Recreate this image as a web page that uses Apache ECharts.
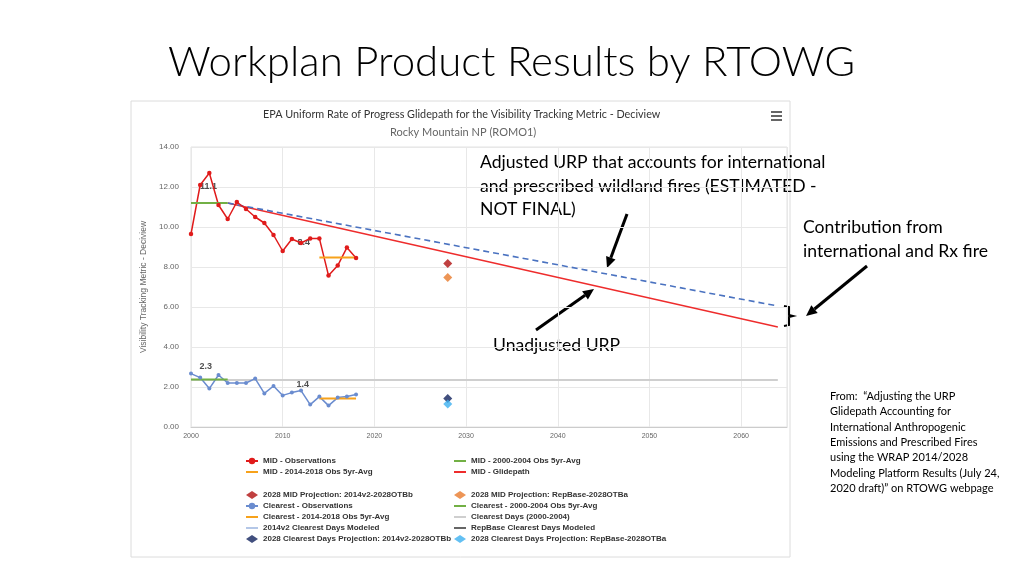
<!DOCTYPE html>
<html>
<head>
<meta charset="utf-8">
<script src="https://cdn.jsdelivr.net/npm/echarts@6/dist/echarts.min.js"></script>
<style>
  html, body { margin: 0; padding: 0; background: #fff; }
  #main { width: 1024px; height: 576px; }
</style>
</head>
<body>
<div id="main"></div>
<script>
// observation years
var years = [2000, 2001, 2002, 2003, 2004, 2005, 2006, 2007, 2008, 2009,
             2010, 2011, 2012, 2013, 2014, 2015, 2016, 2017, 2018];
// most impaired days
var midObs = [9.65, 12.1, 12.7, 11.1, 10.4, 11.25, 10.9, 10.5, 10.2, 9.6,
              8.8, 9.4, 9.2, 9.43, 9.43, 7.57, 8.07, 8.97, 8.45];
// clearest days
var clearObs = [2.67, 2.47, 1.92, 2.6, 2.2, 2.2, 2.2, 2.42, 1.68, 2.05,
                1.58, 1.72, 1.82, 1.12, 1.52, 1.07, 1.47, 1.52, 1.62];

var midAvgEarly = [[2000, 11.2], [2004, 11.2]];
var midAvgLate = [[2014, 8.48], [2018, 8.48]];
var clearAvgEarly = [[2000, 2.37], [2004, 2.37]];
var clearAvgLate = [[2014, 1.43], [2018, 1.43]];
var clearBaseline = [[2000, 2.35], [2064, 2.35]];
var glidepath = [[2004, 11.2], [2064, 5.0]];
var adjustedGlidepath = [[2004, 11.2], [2064, 6.05]];

// 2028 projections
var projMidOTBb = [[2028, 8.18]];
var projMidOTBa = [[2028, 7.47]];
var projClearOTBb = [[2028, 1.43]];
var projClearOTBa = [[2028, 1.15]];

// value labels shown on the chart
var avgLabels = [[2001.9, 12.0, "11.1"], [2012.3, 9.2, "8.4"], [2001.6, 3.0, "2.3"], [2012.2, 2.1, "1.4"]];

var tickYears = [2000, 2010, 2020, 2030, 2040, 2050, 2060];

function pair(xs, ys) {
  return xs.map(function (x, i) { return [x, ys[i]]; });
}

// black arrow (line + head) for the slide notes
function arrow(x1, y1, x2, y2) {
  var a = Math.atan2(y2 - y1, x2 - x1);
  var len = 11, w = 5;
  var bx = x2 - len * Math.cos(a), by = y2 - len * Math.sin(a);
  return [
    { type: "line", shape: { x1: x1, y1: y1, x2: bx, y2: by }, style: { stroke: "#000", lineWidth: 3 } },
    { type: "polygon", shape: { points: [[x2, y2],
        [bx + w * Math.sin(a), by - w * Math.cos(a)],
        [bx - w * Math.sin(a), by + w * Math.cos(a)]] }, style: { fill: "#000" } }
  ];
}

// legend entry for a plain line (hide the dot)
function plain(name) {
  return { name: name, itemStyle: { opacity: 0 } };
}

var myChart = echarts.init(document.getElementById("main"));

var noteFont = "Lato, 'Open Sans', sans-serif";
var graphics = [
  { type: "rect", shape: { x: 131, y: 101, width: 659, height: 456 }, style: { fill: "none", stroke: "#dcdcdc", lineWidth: 1 } },
  // menu icon
  { type: "line", shape: { x1: 771, y1: 112, x2: 782, y2: 112 }, style: { stroke: "#666", lineWidth: 2 } },
  { type: "line", shape: { x1: 771, y1: 116, x2: 782, y2: 116 }, style: { stroke: "#666", lineWidth: 2 } },
  { type: "line", shape: { x1: 771, y1: 120, x2: 782, y2: 120 }, style: { stroke: "#666", lineWidth: 2 } },
  { type: "text", left: 480, top: 151, style: { text: "Adjusted URP that accounts for international\nand prescribed wildland fires (ESTIMATED -\nNOT FINAL)", font: "17.6px " + noteFont, fill: "#000", lineHeight: 23.5 } },
  { type: "text", left: 803, top: 216, style: { text: "Contribution from\ninternational and Rx fire", font: "17.6px " + noteFont, fill: "#000", lineHeight: 23.5 } },
  { type: "text", left: 493, top: 336, style: { text: "Unadjusted URP", font: "17.6px " + noteFont, fill: "#000" } },
  { type: "text", left: 830, top: 389, style: { text: "From:  \u201cAdjusting the URP\nGlidepath Accounting for\nInternational Anthropogenic\nEmissions and Prescribed Fires\nusing the WRAP 2014/2028\nModeling Platform Results (July 24,\n2020 draft)\u201d on RTOWG webpage", font: "11px " + noteFont, fill: "#000", lineHeight: 15.3 } },
  // bracket
  { type: "polyline", shape: { points: [[784, 306], [789, 307], [789, 315], [793, 316], [789, 317], [789, 325], [784, 326]] }, style: { stroke: "#000", lineWidth: 2, fill: "none" } }
].concat(arrow(627, 214, 607, 268), arrow(536, 330, 594, 289), arrow(867, 266, 806, 316));

var legendBase = { orient: "vertical", padding: 0, itemGap: 3, itemWidth: 12, itemHeight: 8,
  textStyle: { fontSize: 8, color: "#333", fontWeight: "bold" } };

const option = {
  animation: false,
  title: [
    { text: "Workplan Product Results by RTOWG", left: 163, top: 36, textStyle: { fontFamily: noteFont, fontWeight: 300, fontSize: 42, color: "#000" } },
    { text: "EPA Uniform Rate of Progress Glidepath for the Visibility Tracking Metric - Deciview", left: 263, top: 109, padding: 0, textStyle: { fontFamily: noteFont, fontWeight: "normal", fontSize: 10.8, color: "#333" } },
    { text: "Rocky Mountain NP (ROMO1)", left: 390, top: 127, padding: 0, textStyle: { fontFamily: noteFont, fontWeight: "normal", fontSize: 11, color: "#666" } }
  ],
  grid: { left: 191, top: 147, width: 596, height: 280, show: true, borderColor: "#e2e2e2", borderWidth: 1 },
  legend: [
    Object.assign({ left: 245, top: 457, data: ["MID - Observations", plain("MID - 2014-2018 Obs 5yr-Avg")] }, legendBase),
    Object.assign({ left: 453, top: 457, data: [plain("MID - 2000-2004 Obs 5yr-Avg"), plain("MID - Glidepath")] }, legendBase),
    Object.assign({ left: 245, top: 491, data: ["2028 MID Projection: 2014v2-2028OTBb", "Clearest - Observations",
      plain("Clearest - 2014-2018 Obs 5yr-Avg"), plain("2014v2 Clearest Days Modeled"),
      "2028 Clearest Days Projection: 2014v2-2028OTBb"] }, legendBase),
    Object.assign({ left: 453, top: 491, data: ["2028 MID Projection: RepBase-2028OTBa", plain("Clearest - 2000-2004 Obs 5yr-Avg"),
      plain("Clearest Days (2000-2004)"), plain("RepBase Clearest Days Modeled"),
      "2028 Clearest Days Projection: RepBase-2028OTBa"] }, legendBase)
  ],
  xAxis: {
    type: "value", min: 2000, max: 2065, interval: 10,
    axisLine: { lineStyle: { color: "#ccc" } },
    axisTick: { show: false },
    axisLabel: { fontSize: 7, color: "#666", margin: 6, showMaxLabel: false,
      formatter: function (v) { return tickYears.indexOf(v) >= 0 ? String(v) : ""; } },
    splitLine: { lineStyle: { color: "#e8e8e8" } }
  },
  yAxis: {
    type: "value", min: 0, max: 14, interval: 2,
    name: "Visibility Tracking Metric - Deciview", nameLocation: "middle", nameGap: 29,
    nameTextStyle: { fontSize: 8.5, color: "#666" },
    axisLine: { show: false }, axisTick: { show: false },
    axisLabel: { fontSize: 8, color: "#666", margin: 12, formatter: function (v) { return v.toFixed(2); } },
    splitLine: { lineStyle: { color: "#e8e8e8" } }
  },
  graphic: graphics,
  series: [
    { name: "Clearest Days (2000-2004)", type: "line", data: clearBaseline, symbol: "none", color: "#cfcfcf", lineStyle: { width: 2 } },
    { name: "MID - Glidepath", type: "line", data: glidepath, symbol: "none", color: "#ee2c2c", lineStyle: { width: 1.3 } },
    { name: "Adjusted URP", type: "line", data: adjustedGlidepath, symbol: "none", color: "#4a72c0", lineStyle: { width: 1.6, type: [6, 4] } },
    { name: "MID - Observations", type: "line", data: pair(years, midObs), symbol: "circle", symbolSize: 4.5, color: "#e01b1b", lineStyle: { width: 1.5 } },
    { name: "MID - 2000-2004 Obs 5yr-Avg", type: "line", data: midAvgEarly, symbol: "none", color: "#72b045", lineStyle: { width: 2 } },
    { name: "MID - 2014-2018 Obs 5yr-Avg", type: "line", data: midAvgLate, symbol: "none", color: "#f7a21b", lineStyle: { width: 2 } },
    { name: "Clearest - Observations", type: "line", data: pair(years, clearObs), symbol: "circle", symbolSize: 4, color: "#6a8ccf", lineStyle: { width: 1.5 } },
    { name: "Clearest - 2000-2004 Obs 5yr-Avg", type: "line", data: clearAvgEarly, symbol: "none", color: "#72b045", lineStyle: { width: 2 } },
    { name: "Clearest - 2014-2018 Obs 5yr-Avg", type: "line", data: clearAvgLate, symbol: "none", color: "#f7a21b", lineStyle: { width: 2 } },
    { name: "2014v2 Clearest Days Modeled", type: "line", data: [], symbol: "none", color: "#b4c7e7", lineStyle: { width: 2 } },
    { name: "RepBase Clearest Days Modeled", type: "line", data: [], symbol: "none", color: "#666666", lineStyle: { width: 2 } },
    { name: "2028 MID Projection: 2014v2-2028OTBb", type: "scatter", data: projMidOTBb, symbol: "diamond", symbolSize: 9, color: "#b01010" },
    { name: "2028 MID Projection: RepBase-2028OTBa", type: "scatter", data: projMidOTBa, symbol: "diamond", symbolSize: 9, color: "#e87a2c" },
    { name: "2028 Clearest Days Projection: 2014v2-2028OTBb", type: "scatter", data: projClearOTBb, symbol: "diamond", symbolSize: 9, color: "#12235e" },
    { name: "2028 Clearest Days Projection: RepBase-2028OTBa", type: "scatter", data: projClearOTBa, symbol: "diamond", symbolSize: 9, color: "#3cb0f0" },
    { name: "labels", type: "scatter", data: avgLabels, symbolSize: 0, silent: true,
      label: { show: true, position: "inside", formatter: function (p) { return p.data[2]; }, fontSize: 9, fontWeight: "bold", color: "#222" } }
  ]
};

myChart.setOption(option);
</script>
</body>
</html>
